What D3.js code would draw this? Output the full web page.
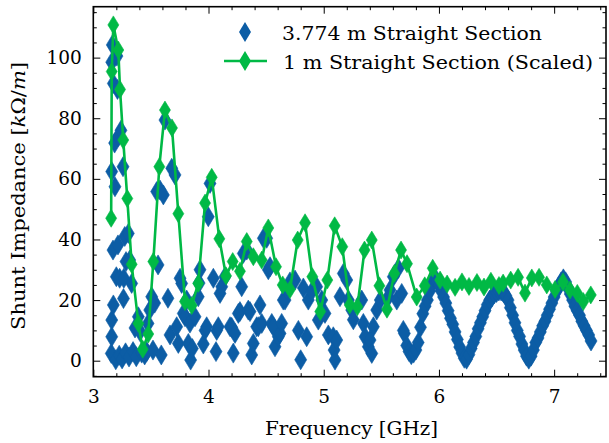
<!DOCTYPE html>
<html>
<head>
<meta charset="utf-8">
<title>Shunt Impedance</title>
<style type="text/css">
  html, body {margin:0px; padding:0px; background:#fff;}
  svg {display:block;}
  text {font-family: "DejaVu Serif", serif; font-size: 18.5px; fill: #000;}
</style>
</head>
<body>

<svg width="609" height="443"></svg>

<script src="https://d3js.org/d3.v7.min.js"></script>
<script type="text/javascript">

const seriesNames = ['3.774 m Straight Section', '1 m Straight Section (Scaled)'];
const xLabel = 'Frequency [GHz]';
const xTicks = [3, 4, 5, 6, 7];
const yTicks = [0, 20, 40, 60, 80, 100];

// [frequency GHz, shunt impedance kOhm/m]
const longSection = [
  [3.156, 2.4], [3.160, 7.9], [3.160, 13.4], [3.160, 62.4], [3.160, 98.5], [3.165, 104.2],
  [3.171, 36.5], [3.174, 18.4], [3.174, 91.5], [3.185, 71.8], [3.188, 57.4], [3.195, 0.3],
  [3.200, 27.7], [3.205, 100.5], [3.210, 89.5], [3.214, 38.2], [3.217, 74.0], [3.225, 1.8],
  [3.229, 27.2], [3.240, 76.0], [3.250, 0.6], [3.258, 64.0], [3.262, 20.5], [3.265, 27.2],
  [3.273, 41.0], [3.280, 2.6], [3.284, 32.7], [3.304, 42.0], [3.310, 1.2], [3.316, 33.2],
  [3.333, 25.5], [3.345, 3.0], [3.362, 10.8], [3.373, 1.3], [3.391, 14.5], [3.405, 9.6],
  [3.420, 2.5], [3.446, 1.9], [3.464, 3.0], [3.475, 12.3], [3.490, 16.7], [3.507, 21.1],
  [3.518, 3.5], [3.533, 19.0], [3.550, 55.8], [3.562, 31.6], [3.579, 56.3], [3.590, 1.9],
  [3.608, 54.7], [3.622, 79.4], [3.648, 20.6], [3.666, 8.5], [3.681, 63.5], [3.709, 61.3],
  [3.724, 11.2], [3.738, 5.7], [3.753, 27.2], [3.767, 25.5], [3.781, 15.6], [3.796, 14.5],
  [3.811, 20.0], [3.825, 5.7], [3.839, 12.4], [3.845, 0.2], [3.860, 4.0], [3.883, 14.5],
  [3.911, 21.1], [3.918, 25.6], [3.926, 30.0], [3.955, 5.5], [3.970, 10.0], [3.984, 11.2],
  [3.998, 47.5], [4.013, 58.5], [4.042, 27.2], [4.065, 3.0], [4.071, 10.0], [4.085, 11.2],
  [4.100, 22.2], [4.115, 24.4], [4.143, 27.7], [4.187, 11.2], [4.201, 11.0], [4.215, 2.5],
  [4.230, 9.0], [4.259, 15.6], [4.273, 16.2], [4.288, 24.4], [4.302, 35.4], [4.332, 36.5],
  [4.345, 16.7], [4.360, 16.2], [4.375, 1.9], [4.389, 5.7], [4.418, 11.2], [4.432, 11.2],
  [4.447, 18.4], [4.462, 12.3], [4.476, 40.4], [4.505, 40.4], [4.519, 30.0], [4.534, 31.0],
  [4.549, 12.3], [4.563, 11.2], [4.577, 4.6], [4.606, 7.9], [4.621, 9.0], [4.635, 12.3],
  [4.649, 20.0], [4.664, 20.0], [4.679, 23.3], [4.707, 26.0], [4.751, 26.6], [4.780, 10.0],
  [4.800, 0.3], [4.823, 24.0], [4.852, 7.9], [4.866, 20.0], [4.896, 22.8], [4.939, 24.4],
  [4.953, 13.4], [4.983, 20.0], [5.011, 15.6], [5.040, 8.5], [5.083, 7.9], [5.090, 3.5],
  [5.098, 0.2], [5.113, 6.8], [5.141, 21.1], [5.170, 28.8], [5.200, 26.6], [5.214, 20.0],
  [5.243, 16.7], [5.257, 13.5], [5.330, 20.0], [5.344, 12.3], [5.359, 7.9], [5.387, 4.6],
  [5.402, 6.8], [5.417, 2.4], [5.431, 11.2], [5.460, 16.7], [5.491, 20.0], [5.561, 21.0],
  [5.575, 23.3], [5.604, 27.7], [5.634, 20.0], [5.648, 30.5], [5.677, 22.2], [5.691, 10.0],
  [5.70, 9.0], [5.72, 5.0], [5.74, 3.0], [5.76, 2.0], [5.78, 2.5], [5.80, 3.5],
  [5.82, 6.0], [5.84, 11.0], [5.86, 15.5], [5.88, 18.0], [5.90, 20.0], [5.92, 23.0],
  [5.94, 25.5], [5.96, 27.0], [5.98, 26.5], [6.00, 25.0], [6.02, 23.0], [6.04, 21.0],
  [6.06, 19.0], [6.08, 16.5], [6.10, 14.0], [6.12, 12.0], [6.14, 9.5], [6.16, 7.0],
  [6.18, 4.5], [6.20, 2.5], [6.22, 0.8], [6.24, 0.5], [6.26, 2.0], [6.28, 4.0],
  [6.30, 6.0], [6.32, 8.0], [6.34, 10.5], [6.36, 12.5], [6.38, 14.5], [6.40, 16.5],
  [6.42, 18.5], [6.44, 20.0], [6.46, 21.0], [6.48, 22.0], [6.50, 22.5], [6.52, 23.0],
  [6.54, 23.0], [6.56, 22.5], [6.58, 21.5], [6.60, 20.0], [6.62, 17.5], [6.64, 15.0],
  [6.66, 12.5], [6.68, 10.0], [6.70, 8.0], [6.72, 5.5], [6.74, 3.5], [6.76, 1.5],
  [6.78, 0.5], [6.80, 1.5], [6.82, 3.5], [6.84, 6.0], [6.86, 7.5], [6.88, 9.5],
  [6.90, 11.5], [6.92, 13.0], [6.94, 15.0], [6.96, 17.0], [6.98, 19.0], [7.00, 21.0],
  [7.02, 23.0], [7.04, 24.5], [7.06, 26.0], [7.08, 27.0], [7.10, 26.0], [7.12, 24.0],
  [7.14, 22.0], [7.16, 20.0], [7.18, 18.0], [7.20, 16.5], [7.22, 15.0], [7.24, 13.0],
  [7.26, 11.5], [7.28, 10.0], [7.30, 8.5], [7.32, 6.5]
];

const shortSection = [
  [3.155, 47.0], [3.160, 95.4], [3.174, 110.8], [3.217, 102.5], [3.232, 89.5], [3.260, 72.8],
  [3.295, 53.5], [3.333, 31.8], [3.391, 12.3], [3.429, 3.8], [3.477, 8.8], [3.521, 32.7],
  [3.573, 64.0], [3.622, 82.7], [3.683, 76.8], [3.738, 48.5], [3.796, 19.5], [3.854, 18.2],
  [3.911, 25.5], [3.970, 52.0], [4.028, 60.5], [4.094, 40.2], [4.152, 28.0], [4.210, 32.7],
  [4.273, 29.5], [4.332, 39.3], [4.389, 34.3], [4.462, 33.2], [4.519, 43.8], [4.586, 31.0],
  [4.644, 25.0], [4.707, 23.5], [4.774, 39.8], [4.838, 45.5], [4.901, 27.7], [4.970, 16.2],
  [5.031, 26.6], [5.095, 44.5], [5.161, 37.6], [5.226, 18.4], [5.292, 17.8], [5.354, 36.5],
  [5.417, 39.8], [5.483, 24.7], [5.549, 17.0], [5.613, 28.8], [5.671, 36.5], [5.723, 32.0],
  [5.807, 21.0], [5.877, 24.7], [5.946, 30.5], [6.010, 26.6], [6.071, 25.3], [6.140, 24.2],
  [6.200, 26.0], [6.261, 24.5], [6.330, 25.8], [6.391, 24.3], [6.451, 26.2], [6.521, 24.8],
  [6.557, 25.6], [6.623, 26.6], [6.687, 27.5], [6.747, 22.3], [6.806, 27.3], [6.869, 27.5],
  [6.936, 25.0], [7.008, 23.5], [7.077, 26.0], [7.138, 23.3], [7.201, 22.2], [7.253, 19.5],
  [7.318, 21.7]
];

const blueCol = '#0C5DA5';
const greenCol = '#00B945';

const svg = d3.select('svg');
const plot = {left: 93.3, right: 606, top: 6.7, bottom: 376.7};

const x = d3.scaleLinear().domain([3, 7.45]).range([plot.left, plot.right]);
const y = d3.scaleLinear().domain([-5.28, 116.8]).range([plot.bottom, plot.top]);

const xMinor = d3.range(3.2, 7.45, 0.2).filter(v => Math.abs(v - Math.round(v)) > 0.01);
const yMinor = d3.range(-5, 116.8, 5).filter(v => v % 20 !== 0);

function diamond(w, h) {
  return `M0,${-h}L${w},0L0,${h}L${-w},0Z`;
}

// data first, frame and ticks drawn over it
svg.append('g')
  .selectAll('path')
  .data(longSection)
  .join('path')
  .attr('d', diamond(6, 10))
  .attr('transform', d => `translate(${x(d[0])},${y(d[1])})`)
  .attr('fill', blueCol)
  .attr('stroke', blueCol)
  .attr('stroke-width', 0.6);

const line = d3.line().x(d => x(d[0])).y(d => y(d[1]));

svg.append('path')
  .datum(shortSection)
  .attr('d', line)
  .attr('fill', 'none')
  .attr('stroke', greenCol)
  .attr('stroke-width', 2.6)
  .attr('stroke-linejoin', 'round');

svg.append('g')
  .selectAll('path')
  .data(shortSection)
  .join('path')
  .attr('d', diamond(5.5, 9))
  .attr('transform', d => `translate(${x(d[0])},${y(d[1])})`)
  .attr('fill', greenCol)
  .attr('stroke', greenCol)
  .attr('stroke-width', 0.6);

function addAxis(axis, tx, ty) {
  const g = svg.append('g')
    .attr('transform', `translate(${tx},${ty})`)
    .call(axis);
  g.select('.domain').remove();
  g.selectAll('line').attr('stroke', '#000').attr('stroke-width', 1);
  return g;
}

// major ticks, pointing inward on all four sides
addAxis(d3.axisBottom(x).tickValues(xTicks).tickFormat(d3.format('d')).tickSizeInner(-7).tickSizeOuter(0).tickPadding(13), 0, plot.bottom);
addAxis(d3.axisTop(x).tickValues(xTicks).tickSizeInner(-7).tickSizeOuter(0).tickFormat(''), 0, plot.top);
addAxis(d3.axisLeft(y).tickValues(yTicks).tickSizeInner(-7).tickSizeOuter(0).tickPadding(11.5), plot.left, 0);
addAxis(d3.axisRight(y).tickValues(yTicks).tickSizeInner(-7).tickSizeOuter(0).tickFormat(''), plot.right, 0);

// minor ticks
addAxis(d3.axisBottom(x).tickValues(xMinor).tickSizeInner(-3.5).tickSizeOuter(0).tickFormat(''), 0, plot.bottom);
addAxis(d3.axisTop(x).tickValues(xMinor).tickSizeInner(-3.5).tickSizeOuter(0).tickFormat(''), 0, plot.top);
addAxis(d3.axisLeft(y).tickValues(yMinor).tickSizeInner(-3.5).tickSizeOuter(0).tickFormat(''), plot.left, 0);
addAxis(d3.axisRight(y).tickValues(yMinor).tickSizeInner(-3.5).tickSizeOuter(0).tickFormat(''), plot.right, 0);

svg.append('rect')
  .attr('x', plot.left)
  .attr('y', plot.top)
  .attr('width', plot.right - plot.left)
  .attr('height', plot.bottom - plot.top)
  .attr('fill', 'none')
  .attr('stroke', '#000')
  .attr('stroke-width', 1.6);

// axis titles
svg.append('text')
  .attr('x', 351.5)
  .attr('y', 435)
  .attr('text-anchor', 'middle')
  .attr('textLength', 173)
  .attr('lengthAdjust', 'spacingAndGlyphs')
  .text(xLabel);

const yLab = svg.append('text')
  .attr('transform', 'translate(25,196) rotate(-90)')
  .attr('text-anchor', 'middle')
  .attr('textLength', 268)
  .attr('lengthAdjust', 'spacingAndGlyphs');
yLab.append('tspan').text('Shunt Impedance [');
yLab.append('tspan').attr('font-style', 'italic').text('k');
yLab.append('tspan').text('Ω/');
yLab.append('tspan').attr('font-style', 'italic').text('m');
yLab.append('tspan').text(']');

// legend
const legend = svg.append('g');
legend.append('path')
  .attr('d', diamond(6, 10))
  .attr('transform', 'translate(245,32)')
  .attr('fill', blueCol);
legend.append('line')
  .attr('x1', 224).attr('x2', 267)
  .attr('y1', 61).attr('y2', 61)
  .attr('stroke', greenCol)
  .attr('stroke-width', 2.6);
legend.append('path')
  .attr('d', diamond(6, 10))
  .attr('transform', 'translate(245,61)')
  .attr('fill', greenCol);
legend.append('text')
  .attr('x', 282).attr('y', 39.5)
  .attr('textLength', 260)
  .attr('lengthAdjust', 'spacingAndGlyphs')
  .text(seriesNames[0]);
legend.append('text')
  .attr('x', 283).attr('y', 68.5)
  .attr('textLength', 310)
  .attr('lengthAdjust', 'spacingAndGlyphs')
  .text(seriesNames[1]);

</script>
</body>
</html>
